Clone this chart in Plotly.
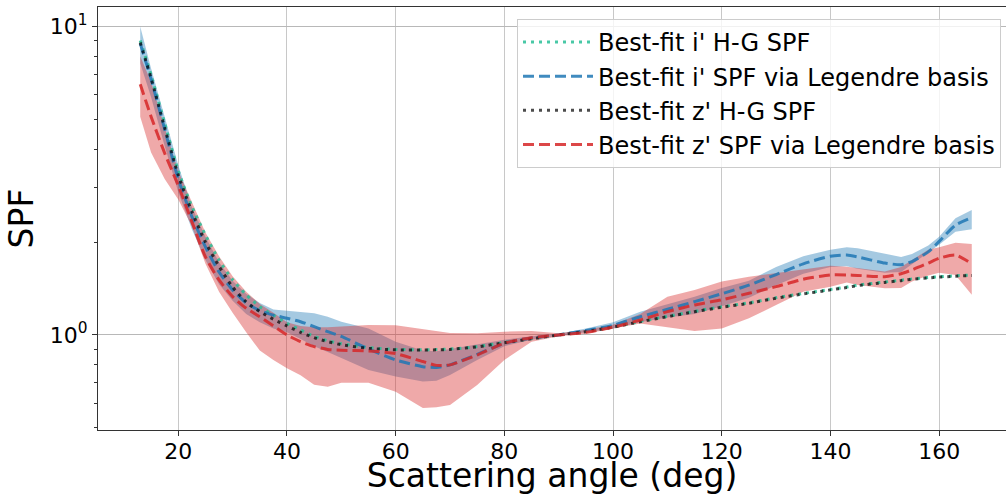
import plotly.graph_objects as go

# Scattering angles (deg)
angles = [13, 15, 17.5, 20, 22.5, 25, 27.5, 30, 32.5, 35, 37.5, 40, 42.5, 45, 47.5, 50,
          55, 60, 65, 67.5, 70, 75, 80, 85, 90, 95, 100, 105, 110, 115, 120, 125, 130,
          135, 140, 143, 145, 150, 153, 155, 158, 160, 163, 166]

# Best-fit curves
hg_i = [9.0, 6.95, 4.85, 3.4, 2.61, 2.11, 1.75, 1.51, 1.35, 1.235, 1.16, 1.09, 1.038, 0.99,
        0.958, 0.937, 0.91, 0.898, 0.896, 0.897, 0.9, 0.917, 0.946, 0.973, 1.0, 1.026, 1.062,
        1.106, 1.149, 1.193, 1.234, 1.271, 1.32, 1.363, 1.405, 1.43, 1.45, 1.485, 1.505, 1.52,
        1.535, 1.545, 1.555, 1.565]
leg_i = [8.8, 6.75, 4.65, 3.2, 2.42, 1.93, 1.6, 1.40, 1.27, 1.20, 1.16, 1.133, 1.104, 1.064,
         1.025, 0.99, 0.90, 0.83, 0.789, 0.785, 0.80, 0.865, 0.94, 0.978, 1.0, 1.035, 1.075,
         1.146, 1.211, 1.282, 1.36, 1.45, 1.57, 1.70, 1.80, 1.815, 1.79, 1.71, 1.69, 1.73,
         1.86, 2.01, 2.27, 2.40]
hg_z = [8.87, 6.8, 4.7, 3.3, 2.51, 2.0, 1.67, 1.43, 1.28, 1.19, 1.125, 1.07, 1.02, 0.98,
        0.951, 0.93, 0.905, 0.895, 0.894, 0.895, 0.898, 0.915, 0.944, 0.972, 1.0, 1.025, 1.06,
        1.104, 1.146, 1.19, 1.23, 1.267, 1.315, 1.358, 1.40, 1.425, 1.445, 1.48, 1.50, 1.516,
        1.53, 1.54, 1.55, 1.56]
leg_z = [6.5, 5.1, 3.88, 3.05, 2.33, 1.79, 1.508, 1.331, 1.22, 1.146, 1.07, 1.0, 0.951, 0.917,
         0.898, 0.892, 0.888, 0.87, 0.82, 0.797, 0.80, 0.861, 0.94, 0.98, 1.0, 1.02, 1.06,
         1.118, 1.19, 1.251, 1.30, 1.365, 1.434, 1.516, 1.565, 1.565, 1.56, 1.545, 1.58, 1.625,
         1.71, 1.773, 1.817, 1.70]

# Uncertainty bands
band_i_lo = [7.6, 5.9, 4.1, 2.9, 2.2, 1.75, 1.46, 1.29, 1.17, 1.10, 1.05, 1.02, 0.97, 0.92,
             0.88, 0.84, 0.77, 0.733, 0.706, 0.71, 0.742, 0.83, 0.92, 0.965, 0.99, 1.02, 1.05,
             1.10, 1.14, 1.17, 1.24, 1.32, 1.45, 1.58, 1.66, 1.67, 1.64, 1.59, 1.60, 1.70,
             1.85, 1.96, 2.16, 2.20]
band_i_hi = [10.0, 7.3, 5.1, 3.55, 2.6, 2.08, 1.72, 1.50, 1.36, 1.27, 1.21, 1.20, 1.19, 1.176,
             1.146, 1.104, 1.05, 0.95, 0.89, 0.885, 0.90, 0.93, 0.965, 0.99, 1.01, 1.05, 1.10,
             1.19, 1.26, 1.33, 1.42, 1.50, 1.66, 1.80, 1.89, 1.925, 1.91, 1.84, 1.79, 1.83,
             1.95, 2.08, 2.39, 2.54]
band_z_lo = [5.1, 3.9, 3.2, 2.75, 2.25, 1.7, 1.38, 1.18, 1.02, 0.89, 0.83, 0.78, 0.74, 0.69,
             0.68, 0.70, 0.70, 0.655, 0.58, 0.583, 0.593, 0.688, 0.83, 0.95, 0.99, 1.01, 1.05,
             1.09, 1.06, 1.03, 1.05, 1.133, 1.25, 1.38, 1.434, 1.48, 1.452, 1.417, 1.42, 1.49,
             1.56, 1.592, 1.565, 1.35]
band_z_hi = [8.0, 6.6, 4.7, 3.4, 2.7, 2.15, 1.8, 1.55, 1.38, 1.26, 1.18, 1.10, 1.07, 1.06,
             1.06, 1.065, 1.078, 1.075, 1.045, 1.03, 1.015, 1.012, 1.025, 1.03, 1.012, 1.04,
             1.08, 1.17, 1.33, 1.40, 1.49, 1.545, 1.59, 1.634, 1.675, 1.665, 1.645, 1.605,
             1.66, 1.751, 1.89, 1.925, 1.99, 1.97]

x_ticks = [20, 40, 60, 80, 100, 120, 140, 160]
y_ticks = [1, 10]
y_ticktext = ["10<sup>0</sup>", "10<sup>1</sup>"]
y_minor = [0.5, 0.6, 0.7, 0.8, 0.9, 2, 3, 4, 5, 6, 7, 8, 9]

FONT = "DejaVu Sans"
fig = go.Figure()

# bands: blue first, red drawn on top
fig.add_trace(go.Scatter(x=angles, y=band_i_lo, mode="lines", line=dict(width=0),
                         showlegend=False, hoverinfo="skip"))
fig.add_trace(go.Scatter(x=angles, y=band_i_hi, mode="lines", line=dict(width=0),
                         fill="tonexty", fillcolor="rgba(31,119,180,0.4)",
                         showlegend=False, hoverinfo="skip"))
fig.add_trace(go.Scatter(x=angles, y=band_z_lo, mode="lines", line=dict(width=0),
                         showlegend=False, hoverinfo="skip"))
fig.add_trace(go.Scatter(x=angles, y=band_z_hi, mode="lines", line=dict(width=0),
                         fill="tonexty", fillcolor="rgba(214,39,40,0.4)",
                         showlegend=False, hoverinfo="skip"))

fig.add_trace(go.Scatter(x=angles, y=hg_i, mode="lines", name="Best-fit i' H-G SPF",
                         line=dict(color="rgba(40,190,150,0.85)", width=3, dash="3px,5px",
                                   shape="spline", smoothing=0.6)))
fig.add_trace(go.Scatter(x=angles, y=leg_i, mode="lines", name="Best-fit i' SPF via Legendre basis",
                         line=dict(color="rgba(31,119,180,0.85)", width=3, dash="11px,5px",
                                   shape="spline", smoothing=0.6)))
fig.add_trace(go.Scatter(x=angles, y=hg_z, mode="lines", name="Best-fit z' H-G SPF",
                         line=dict(color="rgba(0,0,0,0.7)", width=3, dash="3px,5px",
                                   shape="spline", smoothing=0.6)))
fig.add_trace(go.Scatter(x=angles, y=leg_z, mode="lines", name="Best-fit z' SPF via Legendre basis",
                         line=dict(color="rgba(214,39,40,0.85)", width=3, dash="11px,5px",
                                   shape="spline", smoothing=0.6)))

fig.update_layout(
    width=1006, height=495,
    margin=dict(l=98, r=0, t=7, b=65, autoexpand=False),
    paper_bgcolor="white", plot_bgcolor="white",
    font=dict(family=FONT, size=22, color="black"),
    legend=dict(x=0.9945, y=0.972, xanchor="right", yanchor="top", traceorder="normal",
                itemwidth=70,
                bgcolor="rgba(255,255,255,0.8)", bordercolor="#cccccc", borderwidth=1,
                font=dict(family=FONT, size=24, color="black")),
)
fig.update_xaxes(
    range=[5.23, 172.3], tickvals=x_ticks, ticks="outside", ticklen=5, tickwidth=1.2,
    tickcolor="#333", showline=True, linecolor="#333", linewidth=1.2, mirror=True,
    showgrid=True, gridcolor="#c8c8c8", gridwidth=1, zeroline=False, automargin=False,
    ticklabelstandoff=-4,
    title=dict(text="Scattering angle (deg)", font=dict(family=FONT, size=33), standoff=5),
    tickfont=dict(family=FONT, size=22),
)
fig.update_yaxes(
    type="log", range=[-0.308, 1.063], tickvals=y_ticks, ticktext=y_ticktext,
    ticks="outside", ticklen=5, tickwidth=1.2, tickcolor="#333",
    showline=True, linecolor="#333", linewidth=1.2, mirror=False, automargin=False,
    showgrid=True, gridcolor="#b8b8b8", gridwidth=1, zeroline=False,
    minor=dict(tickvals=y_minor, ticks="outside", ticklen=3, tickwidth=1, tickcolor="#333",
               showgrid=False),
    title=dict(text="SPF", font=dict(family=FONT, size=33), standoff=6),
    tickfont=dict(family=FONT, size=22),
)

fig.write_html("out.html", config={"displayModeBar": False},
               post_script="document.body.style.margin='0';document.body.style.overflow='hidden';")
